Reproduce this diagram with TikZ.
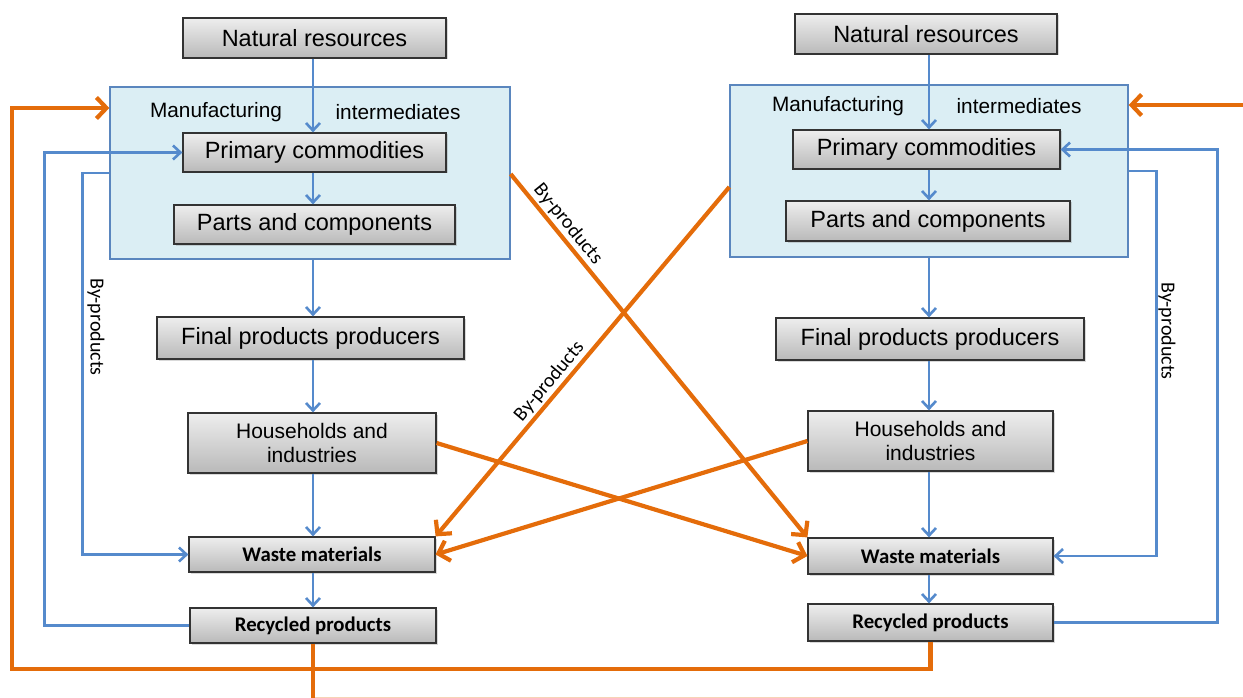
\documentclass[tikz,border=0pt]{standalone}
\usepackage{fontspec}
\setmainfont{Liberation Sans}
\newfontfamily\carlito{Carlito}
\usetikzlibrary{arrows.meta,shadows}
\definecolor{lineblue}{RGB}{85,138,204}
\definecolor{lineorange}{RGB}{228,108,10}
\definecolor{contfill}{RGB}{219,238,244}
\definecolor{contdraw}{RGB}{90,134,190}
\definecolor{boxtop}{RGB}{238,238,238}
\definecolor{boxbot}{RGB}{185,185,185}
\begin{document}
\begin{tikzpicture}[x=1pt,y=-1pt,
  box/.style={draw=black!80, line width=1.2pt, top color=boxtop, bottom color=boxbot,
    drop shadow={shadow xshift=1.5pt, shadow yshift=-1.5pt, opacity=0.3},
    inner sep=0pt, align=center, font=\fontsize{23.5}{26}\selectfont},
  hbox/.style={box, font=\fontsize{21}{24}\selectfont},
  bbox/.style={box, font=\carlito\bfseries\fontsize{20.8}{24}\selectfont},
  cont/.style={draw=contdraw, line width=1.3pt, fill=contfill, inner sep=0pt},
  lab/.style={inner sep=0pt, font=\fontsize{20.8}{24}\selectfont},
  bylab/.style={inner sep=2pt, font=\carlito\fontsize{20}{24}\selectfont},
  bline/.style={draw=lineblue, line width=2.6pt},
  barrow/.style={bline, -{Straight Barb[length=7.5pt,width=14pt]}},
  oline/.style={draw=lineorange, line width=4.2pt},
  oarrow/.style={oline, -{Straight Barb[length=10pt,width=21pt]}}
]
\useasboundingbox (0,0) rectangle (1243,698);
\coordinate (cl) at (313,0);
\coordinate (cr) at (929,0);

% containers
\node[cont, minimum width=400pt, minimum height=172pt] (ct1) at (310,173) {};
\node[cont, minimum width=398pt, minimum height=172pt] (ct2) at (929,171) {};
\node[lab] (mf1) at (216,112) {Manufacturing};
\node[lab] (im1) at (398,112) {intermediates};
\node[lab] (mf2) at (838,106) {Manufacturing};
\node[lab] (im2) at (1019,106) {intermediates};

% left column
\node[box, minimum width=263pt, minimum height=40pt] (nr1) at (314.5,38) {Natural resources};
\node[box, minimum width=263pt, minimum height=39pt] (pc1) at (314.5,152.5) {Primary commodities};
\node[box, minimum width=281pt, minimum height=39pt] (pa1) at (314.5,224.5) {Parts and components};
\node[box, minimum width=307pt, minimum height=42pt] (fp1) at (310.5,338) {Final products producers};
\node[hbox, minimum width=248pt, minimum height=60pt] (hh1) at (312,443) {Households and\\industries};
\node[bbox, minimum width=246pt, minimum height=35pt] (wm1) at (312,554.5) {Waste materials};
\node[bbox, minimum width=246pt, minimum height=35pt] (rp1) at (313,625.5) {Recycled products};

% right column
\node[box, minimum width=262pt, minimum height=40pt] (nr2) at (926,34) {Natural resources};
\node[box, minimum width=267pt, minimum height=39pt] (pc2) at (926.5,149.5) {Primary commodities};
\node[box, minimum width=284pt, minimum height=40pt] (pa2) at (928,221) {Parts and components};
\node[box, minimum width=308pt, minimum height=42pt] (fp2) at (930,339) {Final products producers};
\node[hbox, minimum width=245pt, minimum height=60pt] (hh2) at (930.5,441) {Households and\\industries};
\node[bbox, minimum width=245pt, minimum height=36pt] (wm2) at (930.5,556) {Waste materials};
\node[bbox, minimum width=245pt, minimum height=37pt] (rp2) at (930.5,622.5) {Recycled products};

% vertical blue arrows
\foreach \a/\b in {nr1/pc1, pc1/pa1, ct1/fp1, fp1/hh1, hh1/wm1, wm1/rp1}
  \draw[barrow] (\a.south -| cl) -- (\b.north -| cl);
\foreach \a/\b in {nr2/pc2, pc2/pa2, ct2/fp2, fp2/hh2, hh2/wm2, wm2/rp2}
  \draw[barrow] (\a.south -| cr) -- (\b.north -| cr);

% blue feedback loops
\draw[barrow] (rp1.west) -- ++(-145,0) |- (pc1.west);
\draw[barrow] (ct1.west) -- ++(-27,0) |- (wm1.west);
\draw[barrow] (rp2.east) -- ++(164,0) |- (pc2.east);
\draw[barrow] (ct2.east) -- ++(28,0) |- (wm2.east);
\node[bylab, rotate=-90] (by1) at (96,327) {By-products};
\node[bylab, rotate=-90] (by2) at (1167,331) {By-products};

% orange flows
\coordinate (bot) at (313,698);
\coordinate (rin) at (1243,105);
\draw[oline] (rp1.south) -- (bot);
\draw[oarrow] (rp2.south) -- ++(0,27) -| (12,108) -- (ct1.west |- 0,108);
\draw[oarrow] (rin) -- (ct2.east |- 0,105);
\draw[draw=lineorange!30, line width=1pt] (315,697.5) -- (1243,697.5);

\draw[oarrow] (ct1.east |- 0,174) -- (wm2.north west)
  node[bylab, pos=0.16, above, sloped] {By-products};
\draw[oarrow] (ct2.west |- 0,187) -- (wm1.north east)
  node[bylab, pos=0.58, above, sloped] {By-products};
\draw[oarrow] (hh1.east) -- (wm2.west);
\draw[oarrow] (hh2.west) -- (wm1.east);
\end{tikzpicture}
\end{document}
